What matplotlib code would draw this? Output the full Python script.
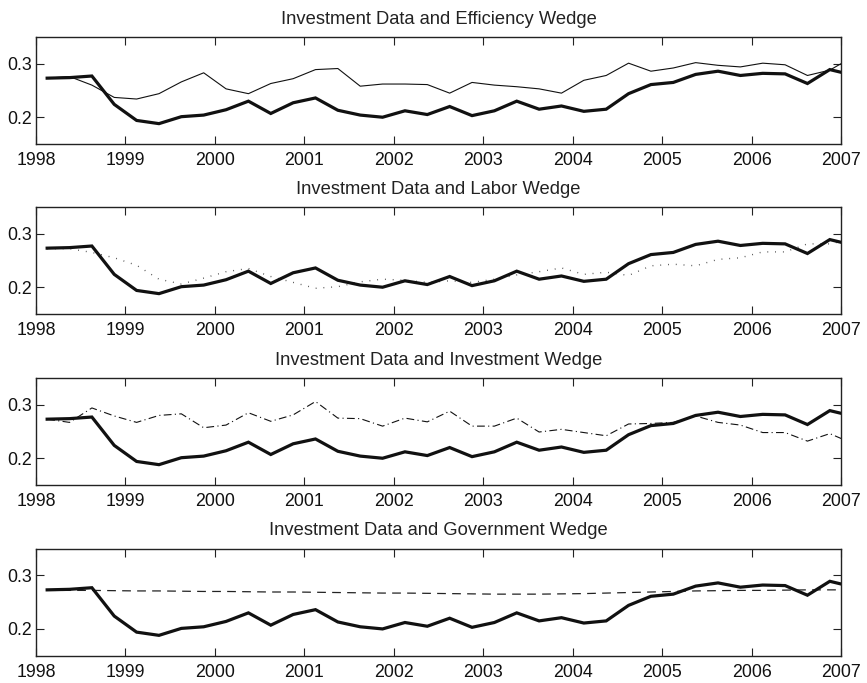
import numpy as np
import matplotlib
matplotlib.use('Agg')
import matplotlib.pyplot as plt

plt.rcParams['font.family'] = ['Liberation Sans', 'DejaVu Sans']

# quarterly observations 1998Q1 .. 2007Q1, plotted at mid-quarter
n_q = 37
t = 1998 + (np.arange(n_q) + 0.5) / 4

investment = [0.273, 0.274, 0.277, 0.224, 0.194, 0.188, 0.201, 0.204, 0.214, 0.230,
              0.207, 0.227, 0.236, 0.213, 0.204, 0.200, 0.212, 0.205, 0.220, 0.203,
              0.212, 0.230, 0.215, 0.221, 0.211, 0.215, 0.244, 0.261, 0.265, 0.280,
              0.286, 0.278, 0.282, 0.281, 0.263, 0.289, 0.279]

efficiency = [0.273, 0.276, 0.260, 0.237, 0.234, 0.244, 0.266, 0.283, 0.253, 0.244,
              0.263, 0.272, 0.289, 0.291, 0.258, 0.262, 0.262, 0.261, 0.245, 0.265,
              0.260, 0.257, 0.253, 0.245, 0.269, 0.278, 0.301, 0.286, 0.292, 0.302,
              0.297, 0.294, 0.301, 0.298, 0.278, 0.288, 0.312]

labor = [0.272, 0.272, 0.265, 0.255, 0.241, 0.215, 0.206, 0.217, 0.229, 0.235,
         0.220, 0.209, 0.198, 0.201, 0.210, 0.215, 0.213, 0.209, 0.212, 0.209,
         0.215, 0.223, 0.229, 0.236, 0.224, 0.228, 0.222, 0.240, 0.243, 0.240,
         0.252, 0.255, 0.266, 0.266, 0.281, 0.281, 0.290]

inv_wedge = [0.273, 0.267, 0.294, 0.279, 0.267, 0.280, 0.283, 0.257, 0.262, 0.285,
             0.269, 0.281, 0.306, 0.275, 0.274, 0.260, 0.275, 0.268, 0.288, 0.260,
             0.260, 0.275, 0.249, 0.254, 0.248, 0.242, 0.264, 0.265, 0.267, 0.279,
             0.267, 0.262, 0.248, 0.248, 0.232, 0.246, 0.228]

government = [0.272, 0.272, 0.272, 0.2715, 0.271, 0.271, 0.2705, 0.270, 0.270, 0.2695,
              0.269, 0.269, 0.2685, 0.268, 0.2675, 0.267, 0.267, 0.2665, 0.266, 0.2655,
              0.265, 0.265, 0.265, 0.2655, 0.266, 0.267, 0.268, 0.269, 0.270, 0.271,
              0.2715, 0.272, 0.272, 0.2725, 0.273, 0.273, 0.273]

titles = ['Investment Data and Efficiency Wedge',
          'Investment Data and Labor Wedge',
          'Investment Data and Investment Wedge',
          'Investment Data and Government Wedge']
wedges = [efficiency, labor, inv_wedge, government]
styles = [dict(ls='-', lw=0.8, color='#111111'),
          dict(ls=(0, (0.6, 5)), lw=1.0, color='#444444'),
          dict(ls=(0, (7, 3, 1, 3)), lw=0.8, color='#111111'),
          dict(ls=(0, (7, 5)), lw=0.9, color='#222222')]

years = np.arange(1998, 2008)

fig = plt.figure(figsize=(8.67, 6.83), dpi=100)
bottoms = [0.7892, 0.5403, 0.2899, 0.0400]

for b, title, w, st in zip(bottoms, titles, wedges, styles):
    ax = fig.add_axes([0.0415, b, 0.9285, 0.1567])
    ax.plot(t, w, **st, zorder=2)
    ax.plot(t, investment, color='#111111', lw=2.3, solid_joinstyle='miter', zorder=3)
    ax.set_xlim(1998, 2007)
    ax.set_ylim(0.15, 0.35)
    ax.set_xticks(years)
    ax.set_yticks([0.2, 0.3])
    ax.set_yticklabels(['0.2', '0.3'])
    ax.tick_params(direction='in', length=6, width=0.8, top=True, right=True,
                   labelsize=12.8, colors='#222222', labelcolor='#111111')
    ax.tick_params(axis='x', pad=6)
    ax.tick_params(axis='y', pad=3)
    for sp in ax.spines.values():
        sp.set_linewidth(1.0)
        sp.set_color('#222222')
    ax.set_title(title, fontsize=13.2, pad=9.5, color='#222222')

fig.savefig('out.png', dpi=100)
